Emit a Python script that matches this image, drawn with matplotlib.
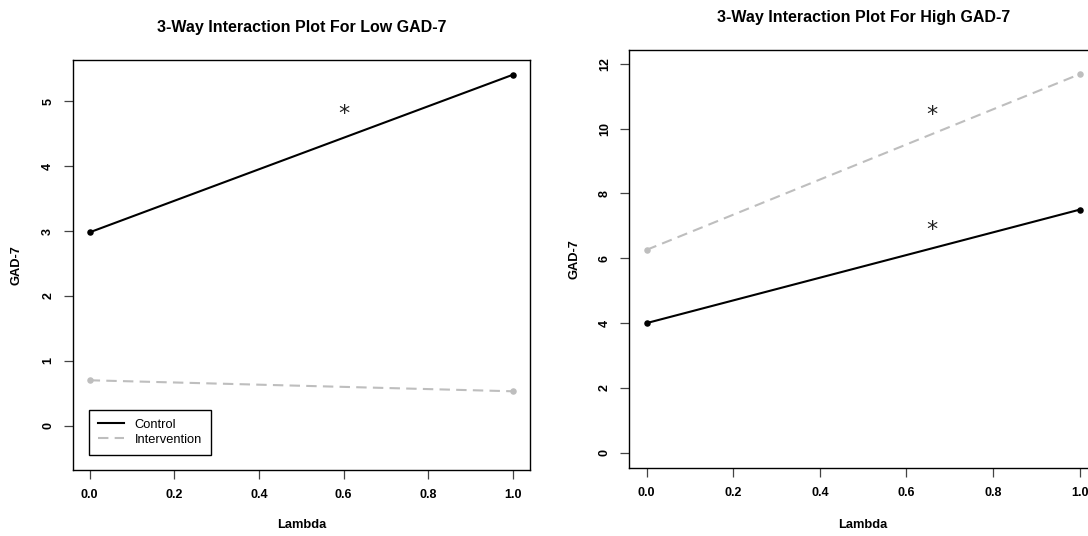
import matplotlib
matplotlib.use("Agg")
import matplotlib.pyplot as plt

# ---- data ----
lam = [0.0, 1.0]
low_control = [2.98, 5.41]
low_intervention = [0.70, 0.53]
high_control = [4.00, 7.50]
high_intervention = [6.26, 11.68]

x_ticks = [0.0, 0.2, 0.4, 0.6, 0.8, 1.0]
x_ticklabels = ["0.0", "0.2", "0.4", "0.6", "0.8", "1.0"]
low_yticks = [0, 1, 2, 3, 4, 5]
high_yticks = [0, 2, 4, 6, 8, 10, 12]

low_stars_x = [0.60]
low_stars_y = [4.80]
high_stars_x = [0.659, 0.659]
high_stars_y = [10.41, 6.88]

series_names = ["Control", "Intervention"]
titles = ["3-Way Interaction Plot For Low GAD-7", "3-Way Interaction Plot For High GAD-7"]

plt.rcParams['font.family'] = ['Liberation Sans', 'DejaVu Sans']

W, H = 1088, 536
fig = plt.figure(figsize=(W / 100, H / 100), dpi=100)

def ax_rect(l, t, r, b):
    return [l / W, 1 - b / H, (r - l) / W, (b - t) / H]

ax1 = fig.add_axes(ax_rect(72.7, 60, 530, 470))
ax2 = fig.add_axes(ax_rect(629.3, 49.7, 1097, 468.3))

GRAY = "#BEBEBE"

def style(ax, yticks, ylim, title, title_y, xlab_y, ylab_x):
    ax.set_xlim(-0.04, 1.04)
    ax.set_ylim(*ylim)
    ax.set_xticks(x_ticks)
    ax.set_xticklabels(x_ticklabels)
    ax.set_yticks(yticks)
    ax.set_yticklabels([str(v) for v in yticks], rotation=90, va='center')
    ax.tick_params(axis='both', length=6.3, width=0.9, color='#444444',
                   labelsize=9, direction='out')
    ax.tick_params(axis='x', pad=7.5)
    ax.tick_params(axis='y', pad=7.0)
    for lbl in ax.get_xticklabels() + ax.get_yticklabels():
        lbl.set_fontweight('bold')
    for sp in ax.spines.values():
        sp.set_linewidth(1.0)
        sp.set_color('black')
    ax.set_title(title, fontsize=11.5, fontweight='bold', y=title_y, va='center', pad=0)
    ax.set_xlabel("Lambda", fontsize=9.3, fontweight='bold')
    ax.set_ylabel("GAD-7", fontsize=9.3, fontweight='bold')
    ax.xaxis.set_label_coords(0.5, xlab_y)
    ax.xaxis.label.set_va('center')
    ax.yaxis.set_label_coords(ylab_x, 0.5)
    ax.yaxis.label.set_va('center')

def draw(ax, ctrl, interv):
    ax.plot(lam, ctrl, color='black', lw=1.5, label=series_names[0], zorder=3)
    ax.plot(lam, interv, color=GRAY, lw=1.5, dashes=(5, 3), label=series_names[1], zorder=2)
    ax.scatter(lam, ctrl, s=22, color='black', zorder=4, linewidths=0)
    ax.scatter(lam, interv, s=22, color=GRAY, zorder=4, linewidths=0)

draw(ax1, low_control, low_intervention)
draw(ax2, high_control, high_intervention)

for x, y in zip(low_stars_x, low_stars_y):
    ax1.text(x, y, "*", fontsize=16, ha='center', va='center', family='DejaVu Sans', color='#222222')
for x, y in zip(high_stars_x, high_stars_y):
    ax2.text(x, y, "*", fontsize=16, ha='center', va='center', family='DejaVu Sans', color='#222222')

style(ax1, low_yticks, (-0.683, 5.636), titles[0], 1.079, -0.134, -0.1233)
style(ax2, high_yticks, (-0.48, 12.435), titles[1], 1.0776, -0.1347, -0.1178)

leg = ax1.legend(loc='lower left', bbox_to_anchor=(0.035, 0.0366), borderaxespad=0,
                 fontsize=9.3, frameon=True, fancybox=False, framealpha=1,
                 edgecolor='black', handlelength=2.0, handletextpad=0.85,
                 labelspacing=0.25, borderpad=0.7)
leg.get_frame().set_linewidth(1.0)

fig.savefig("out.png", dpi=100)
